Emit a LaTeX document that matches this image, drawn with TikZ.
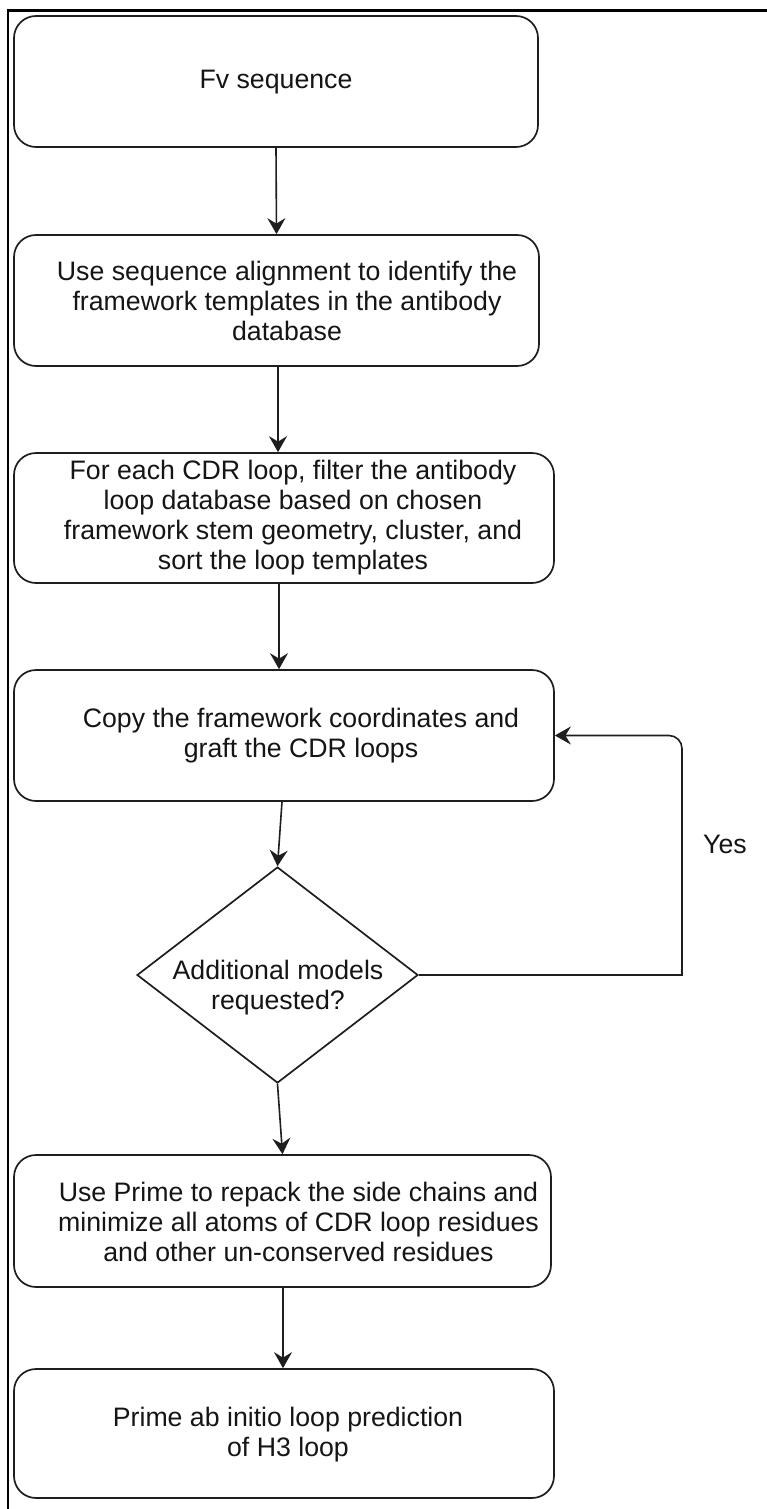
\documentclass[tikz,border=0pt]{standalone}
\usepackage{fontspec}
\setmainfont{Liberation Sans}
\usetikzlibrary{arrows.meta,shapes.geometric}
\definecolor{ln}{HTML}{1E1E1E}
\definecolor{tx}{HTML}{151515}
\tikzset{
  box/.style={draw=ln, line width=1.7pt, rounded corners=22pt, inner sep=0pt, fill=white},
  dshape/.style={diamond, draw=ln, line width=1.7pt, inner sep=0pt, fill=white},
  txt/.style={text=tx, font=\fontsize{26.7}{30}\selectfont, align=center, inner sep=0pt},
  conn/.style={draw=ln, line width=1.6pt, -{Stealth[length=16pt,width=18pt,inset=5.5pt]}},
  outerframe/.style={draw=black, line width=2.4pt},
}
\begin{document}
\begin{tikzpicture}[x=1pt,y=-1pt]
\useasboundingbox (0,0) rectangle (767,1509);
\fill[white] (0,0) rectangle (767,1509);
\draw[outerframe] (767,10.5) -- (8,10.5) -- (8,1509);

% boxes
\node[box, minimum width=524pt, minimum height=131pt] (b1) at (276,81.5) {};
\node[box, minimum width=525pt, minimum height=131pt] (b2) at (276.5,300.5) {};
\node[box, minimum width=540pt, minimum height=130pt] (b3) at (284,518) {};
\node[box, minimum width=540pt, minimum height=131pt] (b4) at (284,735.5) {};
\node[dshape, minimum width=281pt, minimum height=216pt] (dia) at (277.5,975) {};
\node[box, minimum width=537pt, minimum height=132pt] (b6) at (282.5,1221) {};
\node[box, minimum width=540pt, minimum height=129pt] (b7) at (284,1433.5) {};

% texts
\node[txt] (t1) at (276,82) {Fv sequence};
\node[txt] (t2) at (287,301) {Use sequence alignment to identify the\\framework templates in the antibody\\database};
\node[txt] (t3) at (293,518) {For each CDR loop, filter the antibody\\loop database based on chosen\\framework stem geometry, cluster, and\\sort the loop templates};
\node[txt] (t4) at (301,736) {Copy the framework coordinates and\\graft the CDR loops};
\node[txt] (td) at (278,988) {Additional models\\requested?};
\node[txt] (t6) at (298.5,1222) {Use Prime to repack the side chains and\\minimize all atoms of CDR loop residues\\and other un-conserved residues};
\node[txt] (t7) at (288,1435) {Prime ab initio loop prediction\\of H3 loop};
\node[txt] (yes) at (725,844) {Yes};

% connectors
\draw[conn] (b1.south) -- (b2.north);
\draw[conn] ([xshift=1.5pt]b2.south) -- ([xshift=-6pt]b3.north);
\draw[conn] ([xshift=-5pt]b3.south) -- ([xshift=-5pt]b4.north);
\draw[conn] ([xshift=-2pt]b4.south) -- (dia.north);
\draw[conn] (dia.south) -- (b6.north);
\draw[conn] ([xshift=0.5pt]b6.south) -- ([xshift=-1pt]b7.north);
\coordinate (lb) at (682,975);
\coordinate (lt) at (682,735.5);
\draw[conn] (dia.east) -- (lb) [rounded corners=13pt] -- (lt) -- (b4.east);
\end{tikzpicture}
\end{document}
